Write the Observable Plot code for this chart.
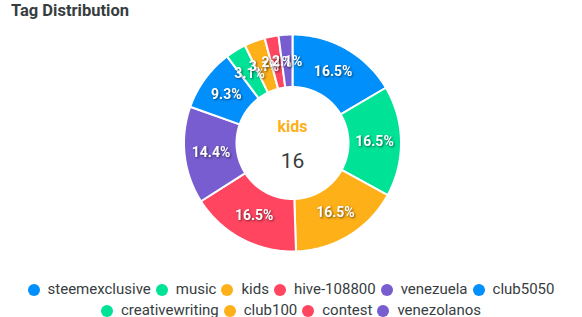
<!DOCTYPE html>
<html>
<head>
<meta charset="utf-8">
<script src="https://cdn.jsdelivr.net/npm/d3@7"></script>
<script src="https://cdn.jsdelivr.net/npm/@observablehq/plot@0.6"></script>
<style>
  html, body { margin: 0; padding: 0; background: #fff; }
  body { width: 582px; height: 317px; position: relative; overflow: hidden; font-family: Roboto, "Noto Sans", sans-serif; }
  #title { position: absolute; left: 11px; top: 1px; font: bold 16.5px Roboto, sans-serif; color: #373d3f; }
  #chart { position: absolute; left: 0; top: 0; }
  #legend { position: absolute; left: 0; top: 280px; width: 582px; display: flex; flex-wrap: wrap; justify-content: center; row-gap: 2px; font: 15px Roboto, sans-serif; color: #373d3f; line-height: 19px; }
  .item { display: flex; align-items: center; margin: 0 2.5px; height: 19px; }
  .mk { width: 12px; height: 12px; border-radius: 50%; margin-right: 8px; display: inline-block; }
  .lbl text { filter: drop-shadow(1px 1px 1px rgba(0,0,0,0.55)); }
</style>
</head>
<body>
<div id="title">Tag Distribution</div>
<div id="chart"></div>
<div id="legend"></div>
<script>
const tags = ["steemexclusive", "music", "kids", "hive-108800", "venezuela", "club5050", "creativewriting", "club100", "contest", "venezolanos"];
const counts = [16, 16, 16, 16, 14, 9, 3, 3, 2, 2];
const colors = ["#008FFB", "#00E396", "#FEB019", "#FF4560", "#775DD0", "#008FFB", "#00E396", "#FEB019", "#FF4560", "#775DD0"];
const centerName = "kids";
const centerValue = 16;

const W = 582, H = 270;
const cx = 292, cy = 142.5, rOut = 108.5, rIn = 56, rLbl = 82;

const total = d3.sum(counts);
const arcs = d3.pie().sort(null).value(d => d)(counts);

// polygon points for each slice (data-derived angles)
const pts = [];
arcs.forEach((a, i) => {
  const n = Math.max(2, Math.ceil((a.endAngle - a.startAngle) / 0.01));
  for (let k = 0; k <= n; k++) {
    const t = a.startAngle + (a.endAngle - a.startAngle) * k / n;
    pts.push({tag: tags[i], x: cx + rOut * Math.sin(t), y: cy - rOut * Math.cos(t)});
  }
  for (let k = n; k >= 0; k--) {
    const t = a.startAngle + (a.endAngle - a.startAngle) * k / n;
    pts.push({tag: tags[i], x: cx + rIn * Math.sin(t), y: cy - rIn * Math.cos(t)});
  }
});

const labels = arcs.map((a, i) => {
  const t = (a.startAngle + a.endAngle) / 2;
  return {tag: tags[i], x: cx + rLbl * Math.sin(t), y: cy - rLbl * Math.cos(t), text: (counts[i] / total * 100).toFixed(1) + "%"};
});

const plot = Plot.plot({
  width: W, height: H,
  margin: 0,
  x: {domain: [0, W], range: [0, W], axis: null},
  y: {domain: [0, H], range: [0, H], axis: null},
  color: {domain: tags, range: colors},
  style: {background: "transparent", fontFamily: "Roboto, sans-serif"},
  marks: [
    Plot.line(pts, {x: "x", y: "y", z: "tag", fill: "tag", stroke: "#fff", strokeWidth: 2, curve: "linear-closed"}),
    Plot.text(labels, {x: "x", y: "y", text: "text", fill: "#fff", fontSize: 14, fontWeight: "bold", className: "lbl"}),
    Plot.text([centerName], {x: [cx], y: [cy - 16], text: d => d, fill: "#FEB019", fontSize: 16, fontWeight: "bold"}),
    Plot.text([centerValue], {x: [cx], y: [cy + 18], text: d => String(d), fill: "#373d3f", fontSize: 21})
  ]
});
document.getElementById("chart").appendChild(plot);

const legend = document.getElementById("legend");
tags.forEach((t, i) => {
  const it = document.createElement("div");
  it.className = "item";
  it.innerHTML = `<span class="mk" style="background:${colors[i]}"></span><span>${t}</span>`;
  legend.appendChild(it);
});
</script>
</body>
</html>
